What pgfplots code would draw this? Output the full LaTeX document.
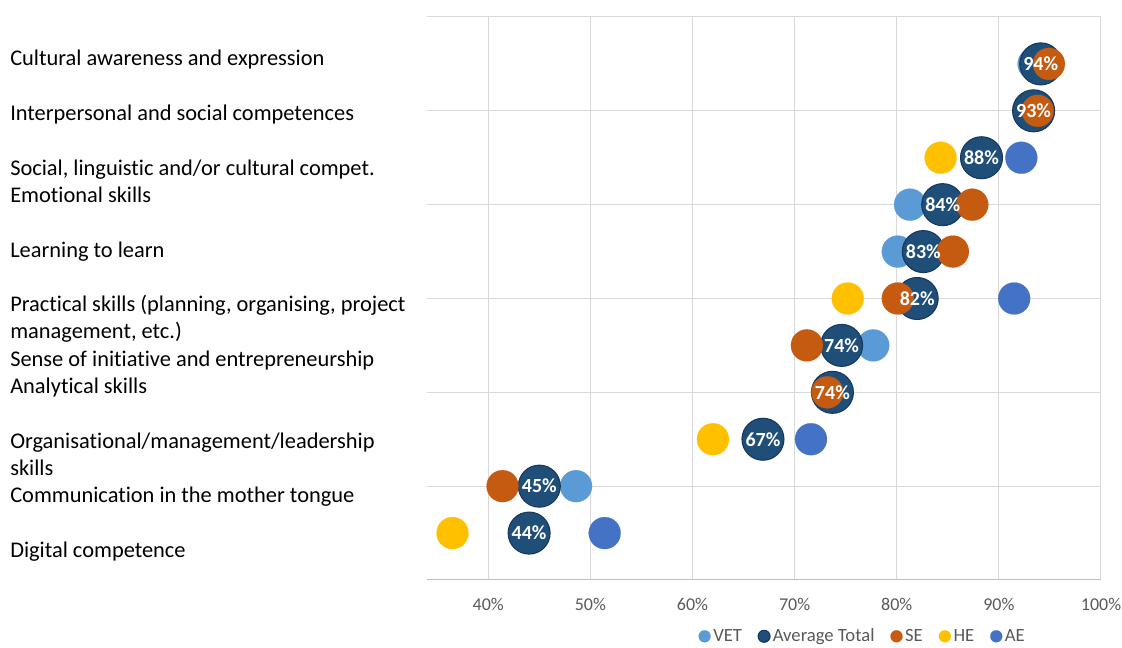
\documentclass[border=0pt]{standalone}
\usepackage{fontspec}
\setmainfont{Carlito}[Ligatures={NoCommon}]
\usepackage{pgfplots}
\usepackage{pgfplotstable}
\pgfplotsset{compat=1.18}

\definecolor{vet}{HTML}{5B9BD5}
\definecolor{avg}{HTML}{1F4E79}
\definecolor{avgedge}{HTML}{17375E}
\definecolor{se}{HTML}{C55A11}
\definecolor{he}{HTML}{FFC000}
\definecolor{ae}{HTML}{4472C4}
\definecolor{gridgray}{HTML}{D9D9D9}
\definecolor{axgray}{HTML}{BFBFBF}
\definecolor{tickgray}{HTML}{595959}

% x = share, y = row (11 = top)
\pgfplotstableread{
x y
93.4 11
81.3 8
80.1 7
77.7 5
48.6 2
}\vetdata
\pgfplotstableread{
x y lab
94.1 11 94
93.4 10 93
88.3 9 88
84.5 8 84
82.6 7 83
82.0 6 82
74.6 5 74
73.7 4 74
66.9 3 67
45.0 2 45
44.0 1 44
}\avgdata
\pgfplotstableread{
x y
94.9 11
93.8 10
87.4 8
85.5 7
80.1 6
71.2 5
73.2 4
41.4 2
}\sedata
\pgfplotstableread{
x y
84.3 9
75.2 6
62.0 3
36.5 1
}\hedata
\pgfplotstableread{
x y
92.2 9
91.5 6
71.6 3
51.4 1
}\aedata

\begin{document}
\begin{tikzpicture}
\path[use as bounding box] (0,0) rectangle (841.5pt,486pt);

% category text block on the left
\foreach \i/\t in {0/{Cultural awareness and expression},
  2/{Interpersonal and social competences},
  4/{Social, linguistic and/or cultural compet.},
  5/{Emotional skills},
  7/{Learning to learn},
  9/{Practical skills (planning, organising, project},
  10/{management, etc.)},
  11/{Sense of initiative and entrepreneurship},
  12/{Analytical skills},
  14/{Organisational/management/leadership},
  15/{skills},
  16/{Communication in the mother tongue},
  18/{Digital competence}}
  \node[anchor=base west, inner sep=0pt, font=\fontsize{16.8}{20}\selectfont]
    at (7.5pt, {(582-27.3*\i)*0.75pt}) {\t};

\begin{axis}[
  at={(320.25pt,51pt)}, anchor=south west,
  scale only axis, width=505.5pt, height=422.25pt,
  xmin=34, xmax=100, ymin=0, ymax=12,
  xtick={40,50,...,100}, ytick={2,4,...,12}, yticklabels={},
  xticklabel={\pgfmathprintnumber{\tick}\%},
  /pgf/number format/assume math mode=true,
  xmajorgrids, ymajorgrids,
  grid style={draw=gridgray, line width=0.75pt},
  axis x line*=bottom, axis y line*=left,
  x axis line style={draw=axgray, line width=0.75pt, -},
  y axis line style={draw=none},
  major tick length=0pt,
  tick label style={font=\fontsize{13.5}{15}\selectfont, text=tickgray},
  xticklabel style={yshift=-10pt},
  clip=false,
  legend columns=-1,
  legend style={at={(0.647,-0.100)}, anchor=center, draw=none, fill=none,
    font=\fontsize{14}{16}\selectfont, text=tickgray,
    /tikz/every even column/.append style={column sep=10pt}},
  legend image code/.code={\draw[#1, mark size=4.5pt] plot coordinates {(0cm,0cm)};},
]
\addplot[only marks, mark=*, mark size=12pt, color=vet, mark options={draw=vet, fill=vet, line width=0.1pt}] table[x=x, y=y] {\vetdata};
\addlegendentry{VET}
\addplot[only marks, mark=*, mark size=15.75pt, color=avg, mark options={draw=avgedge, fill=avg, line width=0.8pt}] table[x=x, y=y] {\avgdata};
\addlegendentry{Average Total}
\addplot[only marks, mark=*, mark size=12pt, color=se, mark options={draw=se, fill=se, line width=0.1pt}] table[x=x, y=y] {\sedata};
\addlegendentry{SE}
\addplot[only marks, mark=*, mark size=12pt, color=he, mark options={draw=he, fill=he, line width=0.1pt}] table[x=x, y=y] {\hedata};
\addlegendentry{HE}
\addplot[only marks, mark=*, mark size=12pt, color=ae, mark options={draw=ae, fill=ae, line width=0.1pt}] table[x=x, y=y] {\aedata};
\addlegendentry{AE}
% value labels on the average bubbles
\addplot[only marks, mark=*, mark size=0pt, mark options={draw=none, fill=none}, forget plot,
  point meta=explicit,
  nodes near coords={\pgfmathprintnumber{\pgfplotspointmeta}\%},
  every node near coord/.append style={anchor=center, text=white,
    font=\bfseries\fontsize{15}{17}\selectfont}]
  table[x=x, y=y, meta=lab] {\avgdata};
\end{axis}
\end{tikzpicture}
\end{document}
